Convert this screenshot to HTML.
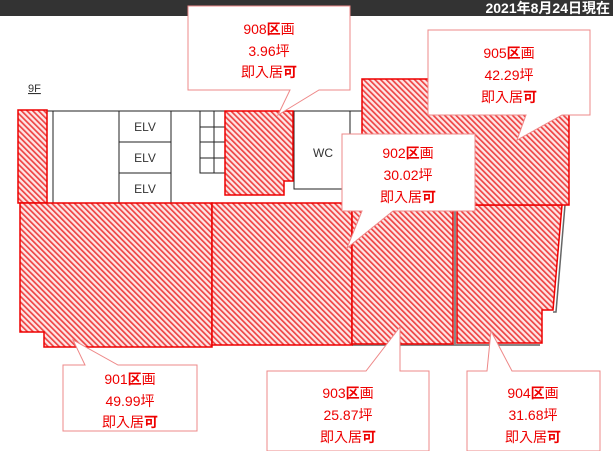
<!DOCTYPE html>
<html><head><meta charset="utf-8"><style>
body{margin:0;width:613px;height:451px;overflow:hidden;background:#fff}
svg{display:block}
text{font-family:"Liberation Sans","Noto Sans CJK JP",sans-serif}
</style></head><body>
<svg width="613" height="451" viewBox="0 0 613 451">
<defs>
<pattern id="h" width="4" height="4" patternUnits="userSpaceOnUse" patternTransform="rotate(-45)">
<rect width="4" height="4" fill="#fde6e6"/>
<rect x="0" y="0" width="1.7" height="4" fill="#ee4444"/>
</pattern>
</defs>
<rect x="0" y="0" width="613" height="16" fill="#333"/>
<text x="610" y="13" font-size="14" font-weight="bold" fill="#fff" text-anchor="end">2021年8月24日現在</text>
<text x="28" y="92" font-size="11" fill="#333" text-decoration="underline">9F</text>
<g stroke="#222" stroke-width="1" fill="none">
<line x1="47" y1="111" x2="362" y2="111"/>
<line x1="47" y1="111" x2="47" y2="203"/>
<line x1="53" y1="111" x2="53" y2="203"/>
<rect x="119" y="111" width="52" height="92"/>
<line x1="119" y1="142" x2="171" y2="142"/>
<line x1="119" y1="173" x2="171" y2="173"/>
<rect x="200" y="111" width="25" height="62"/>
<line x1="200" y1="127" x2="225" y2="127"/>
<line x1="200" y1="142" x2="225" y2="142"/>
<line x1="200" y1="158" x2="225" y2="158"/>
<line x1="214" y1="111" x2="214" y2="173"/>
<polyline points="294,111 294,189 350,189 350,111"/>
<line x1="362" y1="111" x2="362" y2="205"/>
<line x1="47" y1="203" x2="362" y2="203"/>
<line x1="352" y1="345" x2="540" y2="345" stroke="#888" stroke-width="2"/>
<line x1="455" y1="205" x2="455" y2="345" stroke="#888" stroke-width="2"/>
<polyline points="565,205 556,312 553,312" stroke="#666" stroke-width="1.5"/>
</g>
<g fill="url(#h)" stroke="#e00" stroke-width="1.5">
<rect x="18" y="110" width="29" height="93"/>
<polygon points="20,203 212,203 212,347 44,347 44,332 20,332"/>
<rect x="212" y="203" width="140" height="142"/>
<rect x="352" y="203" width="101" height="141"/>
<polygon points="457,205 562,205 553,310 542,310 542,343 457,343"/>
<polygon points="225,111 293,111 293,181 284,181 284,195 225,195"/>
<rect x="362" y="79" width="207" height="126"/>
</g>
<g fill="#333" font-size="12" text-anchor="middle">
<text x="145" y="131">ELV</text><text x="145" y="162">ELV</text><text x="145" y="193">ELV</text>
<text x="323" y="157">WC</text>
</g>
<g fill="#fff" stroke="#e88" stroke-width="1">
<polygon points="188,6 350,6 350,90 319,90 278,115 290,90 188,90"/>
<polygon points="428,30 590,30 590,115 562,115 517,140 526,115 428,115"/>
<polygon points="342,134 475,134 475,211 393,211 347,248 362,211 342,211"/>
<polygon points="63,365 85,365 73,340 118,365 197,365 197,431 63,431"/>
<polygon points="267,371 366,371 400,327 400,371 429,371 429,451 267,451"/>
<polygon points="467,371 487,371 491,331 512,371 600,371 600,451 467,451"/>
</g>
<g fill="#e00" font-size="14" text-anchor="middle">
<text x="269" y="34">908<tspan font-weight="bold">区</tspan>画</text><text x="269" y="56">3.96坪</text><text x="269" y="77">即入居<tspan font-weight="bold">可</tspan></text>
<text x="509" y="58">905<tspan font-weight="bold">区</tspan>画</text><text x="509" y="80">42.29坪</text><text x="509" y="102">即入居<tspan font-weight="bold">可</tspan></text>
<text x="408" y="158">902<tspan font-weight="bold">区</tspan>画</text><text x="408" y="180">30.02坪</text><text x="408" y="202">即入居<tspan font-weight="bold">可</tspan></text>
<text x="130" y="384">901<tspan font-weight="bold">区</tspan>画</text><text x="130" y="406">49.99坪</text><text x="130" y="427">即入居<tspan font-weight="bold">可</tspan></text>
<text x="348" y="398">903<tspan font-weight="bold">区</tspan>画</text><text x="348" y="420">25.87坪</text><text x="348" y="442">即入居<tspan font-weight="bold">可</tspan></text>
<text x="533" y="398">904<tspan font-weight="bold">区</tspan>画</text><text x="533" y="420">31.68坪</text><text x="533" y="442">即入居<tspan font-weight="bold">可</tspan></text>
</g>
</svg>
</body></html>
